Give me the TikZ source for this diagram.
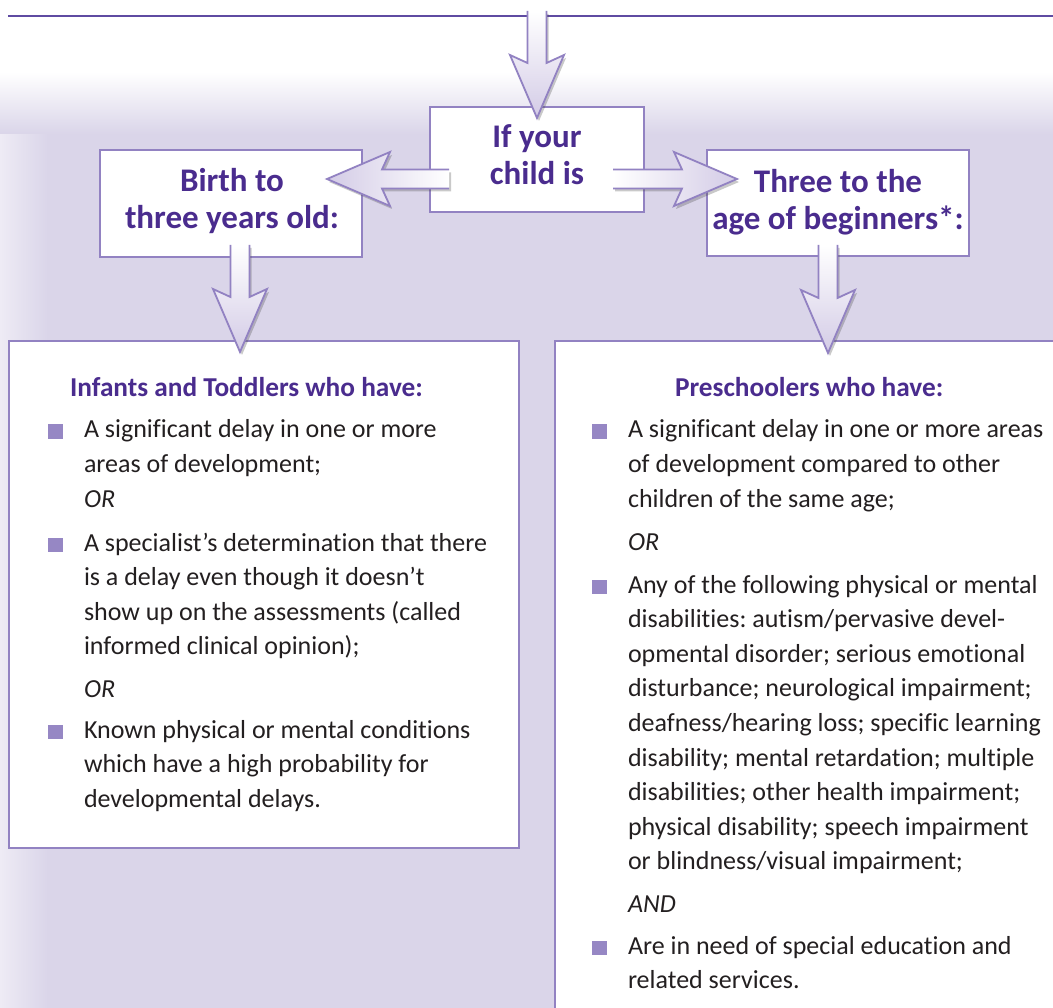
\documentclass[tikz,border=0pt]{standalone}
\usepackage{fontspec}
\setmainfont{Carlito}[Ligatures=NoCommon]
\usetikzlibrary{calc,shadows}
\definecolor{bglav}{HTML}{DAD5E9}
\definecolor{bgedge}{HTML}{EEEBF5}
\definecolor{boxline}{HTML}{9282C2}
\definecolor{headpurple}{HTML}{4A2C8E}
\definecolor{bodytext}{HTML}{231F20}
\definecolor{bulletc}{HTML}{9687C4}
\definecolor{arrowtip}{HTML}{D3CBE6}
\definecolor{titleline}{HTML}{5F4BA2}

\frenchspacing
\newcommand\headfont{\fontsize{33}{36.5}\selectfont\bfseries}
\newcommand\subfont{\fontsize{27.3}{30}\selectfont\bfseries}
\newcommand\bodyfont{\fontsize{26}{34.6}\selectfont}
\newcommand\itemtext[1]{\parbox[t]{470pt}{\raggedright\bodyfont #1}}
\newcommand\headtext[1]{\parbox[t]{300pt}{\centering\headfont #1}}

% block arrow: name, start (tail), tip, shading options
\newcommand\fatarrow[4]{%
  \coordinate (#1-j) at ($(#3)!55pt!(#2)$);
  \coordinate (#1-w) at ($(#3)!63pt!(#2)$);
  \path[arrowfill,#4] ($(#2)!9.5pt!90:(#3)$) -- ($(#1-j)!9.5pt!-90:(#2)$) -- ($(#1-w)!27pt!-90:(#2)$) -- (#3) -- ($(#1-w)!27pt!90:(#2)$) -- ($(#1-j)!9.5pt!90:(#2)$) -- ($(#2)!9.5pt!-90:(#3)$) -- cycle;
  \draw[arrowline] ($(#2)!9.5pt!90:(#3)$) -- ($(#1-j)!9.5pt!-90:(#2)$) -- ($(#1-w)!27pt!-90:(#2)$) -- (#3) -- ($(#1-w)!27pt!90:(#2)$) -- ($(#1-j)!9.5pt!90:(#2)$) -- ($(#2)!9.5pt!-90:(#3)$);
}

\tikzset{
  every node/.style={inner sep=0pt, outer sep=0pt},
  wbox/.style={draw=boxline, line width=2pt, fill=white, anchor=north west},
  headtxt/.style={anchor=base, text=headpurple},
  subhead/.style={anchor=base west, text=headpurple, font=\subfont},
  bodytxt/.style={anchor=base west, text=bodytext},
  bulletsq/.style={fill=bulletc, minimum size=14.5pt, anchor=south west},
  arrowfill/.style={drop shadow={shadow xshift=2pt, shadow yshift=-3pt, opacity=0.28, fill=black!75}},
  arrowline/.style={draw=boxline, line width=1.8pt, line join=miter},
}

\begin{document}
\begin{tikzpicture}[x=1pt, y=-1pt]
\useasboundingbox (0,0) rectangle (1053,1008);
\clip (0,0) rectangle (1053,1008);

% background
\fill[bglav] (0,70) rectangle (1053,1008);
\shade[left color=bgedge, right color=bglav] (0,70) rectangle (48,1008);
\shade[top color=white, bottom color=bglav] (0,72) rectangle (1053,134);
\fill[white] (0,0) rectangle (1053,72.5);

% title rule
\draw[titleline, line width=2pt] (8,16) -- (1053,16);

% boxes
\node[wbox, minimum width=214pt, minimum height=105pt] (ifbox) at (430,107) {};
\node[wbox, minimum width=262pt, minimum height=107pt] (birthbox) at (100,150) {};
\node[wbox, minimum width=262pt, minimum height=106pt] (threebox) at (707,150) {};
\node[wbox, minimum width=510pt, minimum height=507pt] (leftbox) at (9,341) {};
\node[wbox, minimum width=560pt, minimum height=720pt] (rightbox) at (555,341) {};

% box headings
\node[headtxt] (iftext) at (537,148) {\headtext{If your\\child is}};
\node[headtxt] (birthtext) at (232,192) {\headtext{Birth to\\three years old:}};
\node[headtxt] (threetext) at (838,193) {\headtext{Three to the\\age of beginners*:}};

% left box content
\node[subhead] (lhead) at (70,397) {Infants and Toddlers who have:};
\node[bulletsq] (lb1) at (48,439) {};
\node[bodytxt] (lt1) at (84,438) {\itemtext{A significant delay in one or more\\areas of development;\\\textit{OR}}};
\node[bulletsq] (lb2) at (48,552) {};
\node[bodytxt] (lt2) at (84,551) {\itemtext{A specialist’s determination that there\\is a delay even though it doesn’t\\show up on the assessments (called\\informed clinical opinion);}};
\node[bodytxt, font=\bodyfont\itshape] (lor2) at (84,697) {OR};
\node[bulletsq] (lb3) at (48,739) {};
\node[bodytxt] (lt3) at (84,738) {\itemtext{Known physical or mental conditions\\which have a high probability for\\developmental delays.}};

% right box content
\node[subhead] (rhead) at (675,397) {Preschoolers who have:};
\node[bulletsq] (rb1) at (592,439) {};
\node[bodytxt] (rt1) at (628,438) {\itemtext{A significant delay in one or more areas\\of development compared to other\\children of the same age;}};
\node[bodytxt, font=\bodyfont\itshape] (ror1) at (628,550) {OR};
\node[bulletsq] (rb2) at (592,594) {};
\node[bodytxt] (rt2) at (628,593) {\itemtext{Any of the following physical or mental\\disabilities: autism/pervasive devel-\\opmental disorder; serious emotional\\disturbance; neurological impairment;\\deafness/hearing loss; specific learning\\disability; mental retardation; multiple\\disabilities; other health impairment;\\physical disability; speech impairment\\or blindness/visual impairment;}};
\node[bodytxt, font=\bodyfont\itshape] (rand) at (628,912) {AND};
\node[bulletsq] (rb3) at (592,955) {};
\node[bodytxt] (rt3) at (628,954) {\itemtext{Are in need of special education and\\related services.}};

% arrows
\coordinate (topstart) at (537,11);
\fatarrow{atop}{topstart}{$(ifbox.north)+(0,11)$}{top color=white, bottom color=arrowtip}
\fatarrow{aleft}{$(ifbox.south west)+(19,-33)$}{$(birthbox.north east)+(-35,29)$}{left color=arrowtip, right color=white}
\fatarrow{aright}{$(ifbox.south east)+(-31,-33)$}{$(threebox.north west)+(30,29)$}{left color=white, right color=arrowtip}
\fatarrow{adl}{$(birthbox.south)+(9,-12)$}{$(leftbox.north)+(-24,11)$}{top color=white, bottom color=arrowtip}
\fatarrow{adr}{$(threebox.south)+(-10,-11)$}{$(rightbox.north west)+(273,12)$}{top color=white, bottom color=arrowtip}
\end{tikzpicture}
\end{document}
